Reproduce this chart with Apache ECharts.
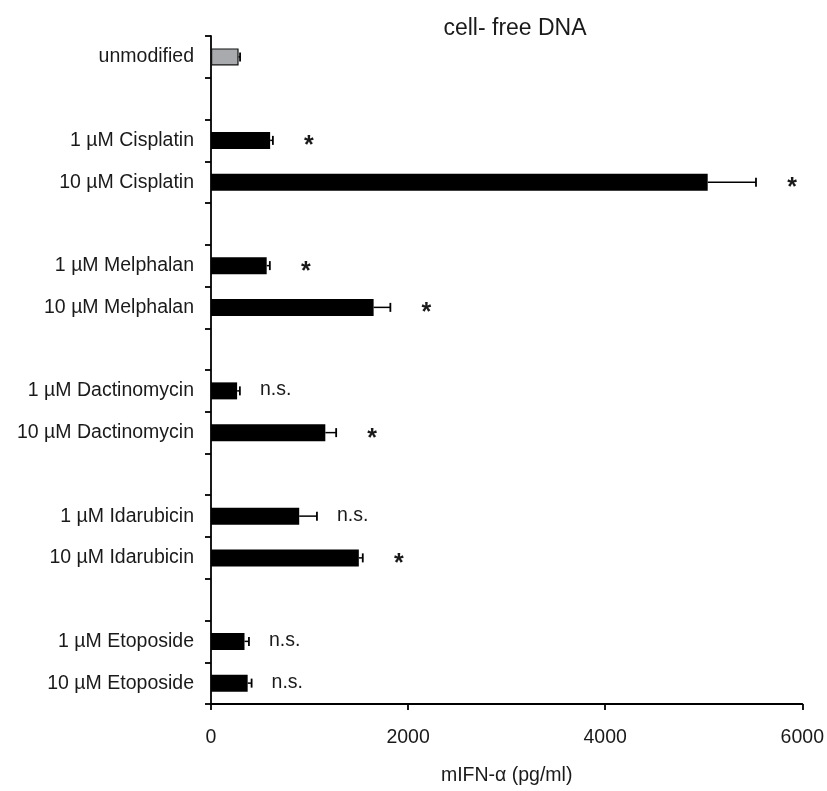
<!DOCTYPE html>
<html>
<head>
<meta charset="utf-8">
<script src="https://cdn.jsdelivr.net/npm/echarts@6/dist/echarts.min.js"></script>
<style>
  html, body { margin: 0; padding: 0; background: #fff; }
  #chart { width: 827px; height: 791px; }
</style>
</head>
<body>
<div id="chart"></div>
<script>
// Treatment rows (empty strings are spacer rows between drug groups)
const categories = [
  'unmodified', '',
  '1 µM Cisplatin', '10 µM Cisplatin', '',
  '1 µM Melphalan', '10 µM Melphalan', '',
  '1 µM Dactinomycin', '10 µM Dactinomycin', '',
  '1 µM Idarubicin', '10 µM Idarubicin', '',
  '1 µM Etoposide', '10 µM Etoposide'
];
// Mean mIFN-α (pg/ml)
const means = [
  280, null,
  600, 5040, null,
  565, 1650, null,
  265, 1160, null,
  895, 1500, null,
  340, 372
];
// Error (upper) in pg/ml
const errors = [
  15, null,
  28, 490, null,
  32, 170, null,
  28, 110, null,
  180, 40, null,
  45, 40
];
// Significance markers
const marks = [
  '', '',
  '*', '*', '',
  '*', '*', '',
  'n.s.', '*', '',
  'n.s.', '*', '',
  'n.s.', 'n.s.'
];
const xTicks = [0, 2000, 4000, 6000];

const FONT = 'Arial, "Liberation Sans", Helvetica, sans-serif';
const TEXT = '#1a1a1a';
const FS = 19.5;

const barData = means.map((v, i) => {
  if (v == null) return '-';
  if (i === 0) {
    return { value: v, itemStyle: { color: '#a9aaae', borderColor: '#111', borderWidth: 1.2 } };
  }
  return { value: v, itemStyle: { color: '#000' } };
});

const errData = means.map((v, i) => v == null ? null : [v, i, errors[i]]).filter(d => d);

const chart = echarts.init(document.getElementById('chart'), null, { renderer: 'canvas' });
chart.setOption({
  animation: false,
  backgroundColor: '#fff',
  title: {
    text: 'cell- free DNA',
    left: 510,
    top: 12,
    textAlign: 'center',
    textStyle: { fontFamily: FONT, fontSize: 23, fontWeight: 'normal', color: TEXT }
  },
  grid: { left: 211, right: 23, top: 36, bottom: 81, containLabel: false },
  xAxis: {
    type: 'value',
    min: xTicks[0],
    max: xTicks[xTicks.length - 1],
    interval: 2000,
    name: 'mIFN-α (pg/ml)',
    nameLocation: 'middle',
    nameGap: 62,
    nameTextStyle: { fontFamily: FONT, fontSize: FS, color: TEXT, verticalAlign: 'top' },
    axisLine: { show: true, lineStyle: { color: '#000', width: 1.8 } },
    axisTick: { show: true, length: 6, lineStyle: { color: '#000', width: 1.8 } },
    axisLabel: {
      margin: 24, fontFamily: FONT, fontSize: FS, color: TEXT,
      formatter: v => String(v)
    },
    splitLine: { show: false }
  },
  yAxis: {
    type: 'category',
    inverse: true,
    data: categories,
    axisLine: { show: true, lineStyle: { color: '#000', width: 1.8 } },
    axisTick: { show: true, length: 6, alignWithLabel: false, lineStyle: { color: '#000', width: 1.8 } },
    axisLabel: { margin: 17, fontFamily: FONT, fontSize: FS, color: TEXT, interval: 0 },
    splitLine: { show: false }
  },
  series: [
    {
      type: 'bar',
      data: barData,
      barWidth: 17,
      z: 2
    },
    {
      type: 'custom',
      z: 3,
      data: errData,
      renderItem: function (params, api) {
        const mean = api.value(0);
        const idx = api.value(1);
        const err = api.value(2);
        const mark = marks[idx];
        const p0 = api.coord([mean, idx]);
        const p1 = api.coord([mean + err, idx]);
        const capH = 4.5;
        const children = [
          { type: 'line', shape: { x1: p0[0], y1: p0[1], x2: p1[0], y2: p1[1] },
            style: { stroke: '#000', lineWidth: 1.5 } },
          { type: 'line', shape: { x1: p1[0], y1: p1[1] - capH, x2: p1[0], y2: p1[1] + capH },
            style: { stroke: '#000', lineWidth: 1.8 } }
        ];
        if (mark === '*') {
          children.push({ type: 'text', x: p1[0] + 36, y: p1[1] + 6,
            style: { text: '*', fontFamily: FONT, fontSize: 25, fontWeight: 'bold', fill: TEXT, align: 'center', verticalAlign: 'middle' } });
        } else if (mark) {
          children.push({ type: 'text', x: p1[0] + 20, y: p1[1] - 1,
            style: { text: mark, fontFamily: FONT, fontSize: FS, fill: TEXT, align: 'left', verticalAlign: 'middle' } });
        }
        return { type: 'group', children: children };
      }
    }
  ]
});
</script>
</body>
</html>
